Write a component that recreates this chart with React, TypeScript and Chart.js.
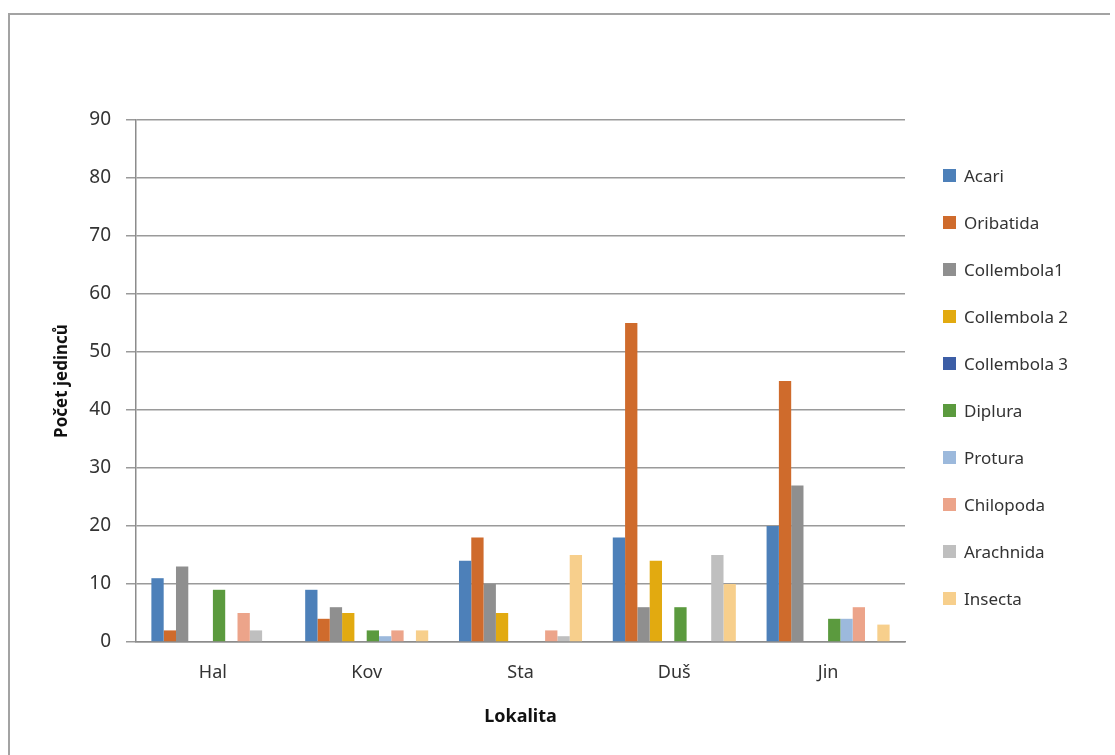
import React, { useEffect, useRef } from "react";
import { Chart, registerables } from "chart.js";

Chart.register(...registerables);

// Localities (x categories)
const lokality = ["Hal", "Kov", "Sta", "Duš", "Jin"];

// Number of individuals per taxon at each locality
const acari = [11, 9, 14, 18, 20];
const oribatida = [2, 4, 18, 55, 45];
const collembola1 = [13, 6, 10, 6, 27];
const collembola2 = [0, 5, 5, 14, 0];
const collembola3 = [0, 0, 0, 0, 0];
const diplura = [9, 2, 0, 6, 4];
const protura = [0, 1, 0, 0, 4];
const chilopoda = [5, 2, 2, 0, 6];
const arachnida = [2, 0, 1, 15, 0];
const insecta = [0, 2, 15, 10, 3];

const yTicks = [0, 10, 20, 30, 40, 50, 60, 70, 80, 90];

const seriesNames = [
  "Acari",
  "Oribatida",
  "Collembola1",
  "Collembola 2",
  "Collembola 3",
  "Diplura",
  "Protura",
  "Chilopoda",
  "Arachnida",
  "Insecta",
];
const seriesValues = [
  acari,
  oribatida,
  collembola1,
  collembola2,
  collembola3,
  diplura,
  protura,
  chilopoda,
  arachnida,
  insecta,
];
const seriesColors = [
  "#4d80b9",
  "#cf6b2c",
  "#8f8f8f",
  "#e2aa10",
  "#3c5ea6",
  "#5b9a3e",
  "#9cb9dc",
  "#eca48a",
  "#bfbfbf",
  "#f7cf8c",
];

const FONT = "'Noto Sans', 'Open Sans', sans-serif";

export default function App() {
  const canvasRef = useRef<HTMLCanvasElement | null>(null);

  useEffect(() => {
    const canvas = canvasRef.current;
    if (!canvas) return;
    const chart = new Chart(canvas, {
      type: "bar",
      data: {
        labels: lokality,
        datasets: seriesNames.map((name, i) => ({
          label: name,
          data: seriesValues[i],
          backgroundColor: seriesColors[i],
          borderWidth: 0,
          categoryPercentage: 0.8,
          barPercentage: 1.0,
        })),
      },
      options: {
        animation: false,
        responsive: false,
        maintainAspectRatio: false,
        layout: { padding: { left: 0, top: 105, right: 205, bottom: 0 } },
        plugins: {
          legend: { display: false },
          tooltip: { enabled: false },
        },
        scales: {
          x: {
            grid: { display: false, drawTicks: false },
            border: { display: true, color: "#8c8c8c", width: 1.5 },
            ticks: {
              color: "#333333",
              font: { family: FONT, size: 18 },
              padding: 20,
            },
            title: {
              display: true,
              text: "Lokalita",
              color: "#111111",
              font: { family: FONT, size: 18, weight: "bold" },
              padding: { top: 0, bottom: 27 },
            },
            afterFit: (scale: any) => {
              scale.height = 113;
            },
          },
          y: {
            min: 0,
            max: 90,
            afterBuildTicks: (scale: any) => {
              scale.ticks = yTicks.map((v) => ({ value: v }));
            },
            grid: {
              color: "#9a9a9a",
              lineWidth: 1.5,
              drawTicks: true,
              tickLength: 10,
            },
            border: { display: true, color: "#8c8c8c", width: 1.5 },
            ticks: {
              color: "#333333",
              font: { family: FONT, size: 19 },
              padding: 15,
            },
            title: {
              display: true,
              text: "Počet jedinců",
              color: "#111111",
              font: { family: FONT, size: 17, weight: "bold" },
              padding: { top: 42, bottom: 0 },
            },
            afterFit: (scale: any) => {
              scale.width = 126;
            },
          },
        },
      },
    });
    return () => chart.destroy();
  }, []);

  return (
    <div
      style={{
        position: "fixed",
        left: 8,
        top: 13,
        width: 1100,
        height: 740,
        borderTop: "2px solid #a3a3a3",
        borderLeft: "2px solid #a3a3a3",
        background: "#ffffff",
        overflow: "hidden",
      }}
    >
      <canvas ref={canvasRef} width={1100} height={740} style={{ display: "block" }} />
      <div
        style={{
          position: "absolute",
          left: 933,
          top: 137,
          fontFamily: FONT,
          fontSize: 17,
          color: "#333333",
        }}
      >
        {seriesNames.map((name, i) => (
          <div
            key={name}
            style={{ display: "flex", alignItems: "center", height: 47 }}
          >
            <span
              style={{
                display: "inline-block",
                width: 13,
                height: 13,
                background: seriesColors[i],
                marginRight: 8,
              }}
            />
            <span>{name}</span>
          </div>
        ))}
      </div>
    </div>
  );
}
